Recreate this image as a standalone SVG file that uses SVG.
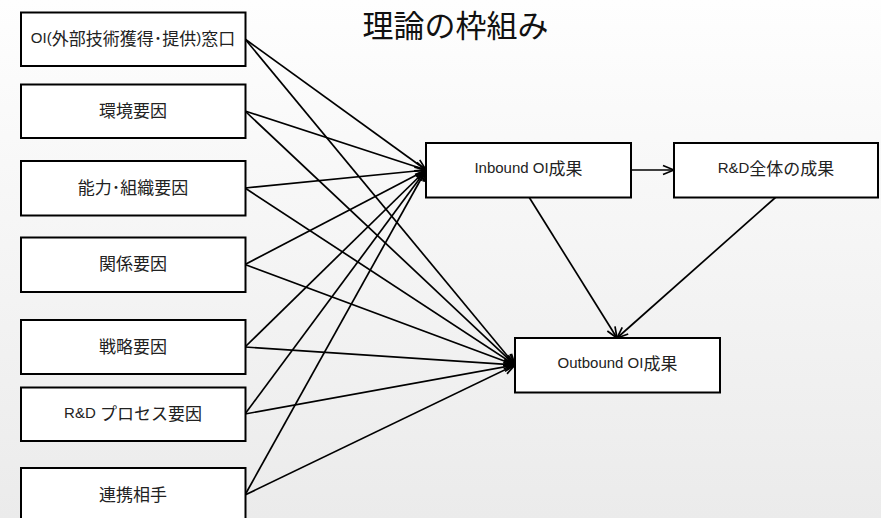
<svg xmlns="http://www.w3.org/2000/svg" width="881" height="518" viewBox="0 0 881 518">
<defs>
<linearGradient id="bg" x1="0" y1="0" x2="0" y2="1">
<stop offset="0" stop-color="#fefefe"/>
<stop offset="1" stop-color="#ebebeb"/>
</linearGradient>
<marker id="ah" markerUnits="userSpaceOnUse" markerWidth="14" markerHeight="12" viewBox="0 0 14 12" refX="12" refY="6" orient="auto">
<path d="M1,1.5 L12,6 L1,10.5" fill="none" stroke="#000" stroke-width="1.7"/>
</marker>
</defs>
<style>
.box{fill:#fff;stroke:#000;stroke-width:2}
.lbl{font-family:"Liberation Sans","Noto Sans CJK JP",sans-serif;font-size:15px;fill:#222;text-anchor:middle;dominant-baseline:central}
.j{font-family:"Noto Sans CJK JP",sans-serif;font-size:17px}
.h{font-family:"Noto Sans CJK JP",sans-serif;font-size:17px}
.c{stroke:#000;stroke-width:1.7;fill:none;marker-end:url(#ah)}
.title{font-family:"Noto Sans CJK JP",sans-serif;font-size:31px;fill:#111;text-anchor:middle}
</style>
<rect x="0" y="0" width="881" height="518" fill="url(#bg)"/>
<text class="title" x="455.5" y="37">理論の枠組み</text>
<g id="connectors">
<line class="c" x1="245" y1="39" x2="426" y2="170"/>
<line class="c" x1="245" y1="39" x2="515" y2="365"/>
<line class="c" x1="245" y1="111" x2="426" y2="170"/>
<line class="c" x1="245" y1="111" x2="515" y2="365"/>
<line class="c" x1="245" y1="188" x2="426" y2="170"/>
<line class="c" x1="245" y1="188" x2="515" y2="365"/>
<line class="c" x1="245" y1="264.5" x2="426" y2="170"/>
<line class="c" x1="245" y1="264.5" x2="515" y2="365"/>
<line class="c" x1="245" y1="347" x2="426" y2="170"/>
<line class="c" x1="245" y1="347" x2="515" y2="365"/>
<line class="c" x1="245" y1="414" x2="426" y2="170"/>
<line class="c" x1="245" y1="414" x2="515" y2="365"/>
<line class="c" x1="245" y1="495" x2="426" y2="170"/>
<line class="c" x1="245" y1="495" x2="515" y2="365"/>
<line class="c" x1="631" y1="170" x2="674" y2="170"/>
<line class="c" x1="529" y1="197" x2="617" y2="338"/>
<line class="c" x1="776" y1="197" x2="617" y2="338"/>
</g>
<g id="n1"><rect class="box" x="21" y="12.5" width="224.5" height="53.5"/><text class="lbl" x="133" y="37">OI(<tspan class="j">外部技術獲得</tspan><tspan class="h">･</tspan><tspan class="j">提供</tspan>)<tspan class="j">窓口</tspan></text></g>
<g id="n2"><rect class="box" x="21" y="84.5" width="224.5" height="53.5"/><text class="lbl" x="133" y="109"><tspan class="j">環境要因</tspan></text></g>
<g id="n3"><rect class="box" x="21" y="161" width="224.5" height="54.5"/><text class="lbl" x="133" y="186"><tspan class="j">能力</tspan><tspan class="h">･</tspan><tspan class="j">組織要因</tspan></text></g>
<g id="n4"><rect class="box" x="21" y="237.5" width="224.5" height="54.5"/><text class="lbl" x="133" y="262"><tspan class="j">関係要因</tspan></text></g>
<g id="n5"><rect class="box" x="21" y="320" width="224.5" height="54"/><text class="lbl" x="133" y="345"><tspan class="j">戦略要因</tspan></text></g>
<g id="n6"><rect class="box" x="21" y="387.5" width="224.5" height="53.5"/><text class="lbl" x="133" y="412">R&amp;D <tspan class="j">プロセス要因</tspan></text></g>
<g id="n7"><rect class="box" x="21" y="468" width="224.5" height="54"/><text class="lbl" x="133" y="493"><tspan class="j">連携相手</tspan></text></g>
<g id="inbound"><rect class="box" x="426" y="143" width="205" height="54.5"/><text class="lbl" x="528.5" y="167">Inbound OI<tspan class="j">成果</tspan></text></g>
<g id="rd"><rect class="box" x="674" y="143" width="204" height="54.5"/><text class="lbl" x="776" y="167">R&amp;D<tspan class="j">全体の成果</tspan></text></g>
<g id="outbound"><rect class="box" x="515" y="338" width="205" height="54.5"/><text class="lbl" x="617.5" y="362">Outbound OI<tspan class="j">成果</tspan></text></g>
</svg>
